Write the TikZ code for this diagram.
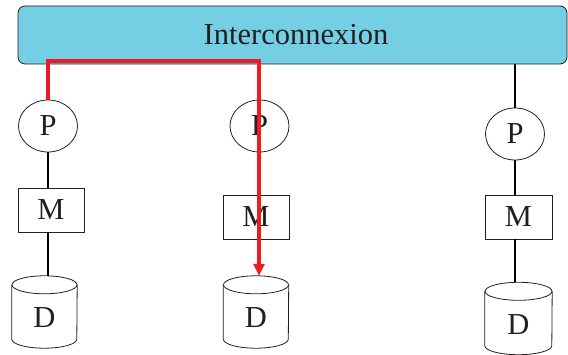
\documentclass[tikz,border=0pt]{standalone}
\usepackage{fontspec}
\setmainfont{Liberation Serif}
\usetikzlibrary{shapes.geometric,arrows.meta}
\definecolor{boxblue}{RGB}{117,207,228}
\definecolor{ink}{RGB}{35,31,32}
\definecolor{pathred}{RGB}{237,28,36}
\tikzset{
  bigtext/.style={font=\fontsize{30.5}{36}\selectfont, text=ink},
  procnode/.style={bigtext, ellipse, draw=ink, line width=0.8pt, minimum width=59pt, minimum height=52pt, inner sep=0pt},
  memnode/.style={bigtext, rectangle, draw=ink, line width=0.8pt, minimum width=66pt, minimum height=44pt, inner sep=0pt},
  disknode/.style={bigtext, rectangle, draw=none, minimum width=65pt, minimum height=72pt, inner sep=0pt},
  cylline/.style={draw=ink, line width=0.8pt},
  wire/.style={draw=black, line width=1.4pt},
  redroute/.style={draw=pathred, line width=3.2pt, line join=miter, -{Triangle[length=12pt,width=11pt]}},
}
\newcommand{\cylout}[2]{%
  \draw[cylline] ([yshift=-9pt]#1.north) ellipse[x radius=#2, y radius=9];
  \draw[cylline] ([yshift=-9pt]#1.north west) -- ([yshift=9pt]#1.south west)
    arc[start angle=180, end angle=0, x radius=#2, y radius=9]
    -- ([yshift=-9pt]#1.north east);
}
\newcommand{\disklabel}{\raisebox{-16pt}[0pt][0pt]{D}}
\begin{document}
\begin{tikzpicture}[x=1pt,y=-1pt]
\useasboundingbox (0,0) rectangle (568,355);
% interconnect
\node[bigtext, draw=ink, line width=0.8pt, fill=boxblue, rounded corners=7pt,
      minimum width=549pt, minimum height=58pt, inner sep=0pt] (inter) at (292.5,35) {\hspace{7pt}Interconnexion};
% column 1
\node[procnode] (p1) at (48,126) {P};
\node[memnode] (m1) at (51,210) {M};
\node[disknode] (d1) at (44.5,312) {\disklabel};
% column 2
\node[procnode] (p2) at (259.5,126) {P};
\node[memnode] (m2) at (256,217) {M};
\node[disknode] (d2) at (256,312) {\disklabel};
% column 3
\node[procnode] (p3) at (515,134) {P};
\node[memnode, minimum width=67pt] (m3) at (518.5,217) {M};
\node[disknode, minimum width=67pt] (d3) at (518.5,318.5) {\disklabel};
\cylout{d1}{32.5}
\cylout{d2}{32.5}
\cylout{d3}{33.5}
% black wires
\draw[wire] (p1.south) -- (p1.south |- m1.north);
\draw[wire] (m1.south -| p1) -- (d1.north -| p1);
\draw[wire] (inter.south -| p3) -- (p3.north);
\draw[wire] (p3.south) -- (p3.south |- m3.north);
\draw[wire] (m3.south -| p3) -- (d3.north -| p3);
% red route
\coordinate (r1) at (48,61);
\coordinate (r2) at (259,61);
\draw[redroute] (p1.north) -- (r1) -- (r2) -- (r2 |- d2.north);
\end{tikzpicture}
\end{document}
